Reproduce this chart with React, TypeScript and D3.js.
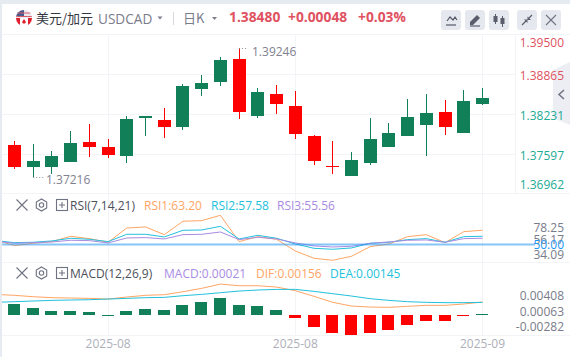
import React from "react";
import * as d3 from "d3";

const opens = [1.37722,1.37375,1.37375,1.37453,1.37769,1.3769,1.37548,1.38147,1.38116,1.38005,1.38605,1.38715,1.39078,1.38179,1.38526,1.38337,1.37863,1.37396,1.37233,1.37438,1.3769,1.37863,1.38037,1.38242,1.37911,1.38368];
const highs = [1.37785,1.37737,1.37627,1.37942,1.38053,1.37816,1.38174,1.38179,1.38305,1.38684,1.38825,1.39109,1.39246,1.3862,1.38668,1.38573,1.37879,1.37785,1.37611,1.38147,1.38068,1.38447,1.38526,1.38431,1.38589,1.3862];
const lows = [1.37343,1.37216,1.37264,1.37453,1.37532,1.37516,1.37438,1.37863,1.37832,1.37958,1.38494,1.38652,1.38132,1.38147,1.3821,1.37816,1.37406,1.37264,1.37233,1.37406,1.3769,1.37863,1.37548,1.37879,1.37911,1.38352];
const closes = [1.37375,1.37469,1.37548,1.37753,1.3769,1.37564,1.38132,1.38179,1.38005,1.38652,1.38699,1.39062,1.38242,1.38557,1.38368,1.37895,1.37469,1.3738,1.37485,1.37816,1.37911,1.38163,1.38226,1.38005,1.38415,1.38463];

const rsi1 = [57.3,47.9,51.8,54.6,63.4,59.5,53.5,77.1,78.8,66.1,88.2,89.3,98.1,54.6,62.8,58.4,39.1,27.0,23.7,30.3,46.3,50.7,62.8,66.1,52.9,71.1,73.3];
const rsi2 = [56.2,52.9,53.5,55.7,60.1,58.4,54.6,66.7,66.7,62.3,73.3,73.8,79.9,59,65,60.1,50.7,43.5,41.9,44.1,51.8,53.5,57.9,59.5,53.5,62.8,63.4];
const rsi3 = [55.1,51.8,52.9,54,56.8,56.2,52.4,60.6,61.2,59,66.1,66.7,70.5,57.9,61.7,59,52.4,47.4,45.7,46.8,51.8,54,56.8,57.3,53.5,59.5,60.1];

const hist = [0.00245,0.00156,0.00089,0.00089,0.00067,0.00002,0.00089,0.00134,0.00111,0.00223,0.00289,0.00378,0.00223,0.002,0.00111,-0.00067,-0.00267,-0.00401,-0.00445,-0.00401,-0.00334,-0.00223,-0.00134,-0.00134,-0.00015,0.00015];
const dif = [0.0046,0.00438,0.00408,0.00386,0.00378,0.00371,0.00356,0.00401,0.00438,0.00453,0.00519,0.00594,0.0069,0.00653,0.00653,0.00623,0.00542,0.00416,0.00282,0.002,0.00178,0.00171,0.00193,0.00215,0.00215,0.00245,0.00289];
const dea = [0.00282,0.00297,0.00312,0.00326,0.00334,0.00341,0.00356,0.00371,0.00386,0.00393,0.0043,0.0046,0.00497,0.00534,0.00557,0.00571,0.00571,0.00527,0.00475,0.00423,0.00364,0.00326,0.00297,0.00282,0.00275,0.00275,0.00282];

const priceTicks = [1.395,1.38865,1.38231,1.37597,1.36962];
const rsiTicks = [78.25,56.17,50,34.09];
const macdTicks = [0.00408,0.00063,-0.00282];
const dateTicks = [{ i: 5, label: "2025-08" }, { i: 15, label: "2025-08" }, { i: 25, label: "2025-09" }];

const UP = "#118058", DOWN = "#ff0000";
const ORANGE = "#ffa564", CYAN = "#22c1dc", PURPLE = "#a88be3";
const LABEL_RED = "#e0525f", LABEL_GREEN = "#22ab94", GRID = "#f3f4f7", GRAY = "#797c8a";
const FONT = "'Noto Sans CJK SC', 'Liberation Sans', sans-serif";
const NUM = "'Open Sans', 'Noto Sans', sans-serif";

const x = d3.scaleLinear().domain([0, 25]).range([14.5, 482.5]);
const yP = d3.scaleLinear().domain([1.39246, 1.37216]).range([48.3, 177]);
const yR = d3.scaleLinear().domain([78.25, 34.09]).range([227.3, 254]);
const yM = d3.scaleLinear().domain([0, 0.00408]).range([315, 296.7]);

const lineOf = (y: d3.ScaleLinear<number, number>) =>
  d3.line<number>().x((_, i) => x(i - 1)).y((v) => y(v));

function XIcon({ cx, cy, r, color }: { cx: number; cy: number; r: number; color: string }) {
  return <path d={`M${cx - r},${cy - r}L${cx + r},${cy + r}M${cx + r},${cy - r}L${cx - r},${cy + r}`} stroke={color} strokeWidth={1.1} fill="none" />;
}

function PanelIcons({ cy }: { cy: number }) {
  const hex = d3.range(6).map((k) => {
    const a = Math.PI / 6 + (k * Math.PI) / 3;
    return [41.5 + 6 * Math.cos(a), cy + 6 * Math.sin(a)].join(",");
  }).join(" ");
  return (
    <g fill="none" stroke="#6f7280" strokeWidth={1.1}>
      <XIcon cx={22} cy={cy} r={5.5} color="#6f7280" />
      <polygon points={hex} />
      <circle cx={41.5} cy={cy} r={2.2} />
      <rect x={56.5} y={cy - 5.5} width={11} height={11} />
      <path d={`M59,${cy}H65M62,${cy - 3}V${cy + 3}`} />
    </g>
  );
}

function Button({ bx, children }: { bx: number; children: React.ReactNode }) {
  return (
    <g>
      <rect x={bx} y={10} width={20} height={20} rx={3} fill="#e6e8ef" />
      {children}
    </g>
  );
}

export default function App() {
  const clamp = (v: number) => Math.max(42.6, Math.min(184.3, v));
  return (
    <svg width={570} height={357} style={{ position: "fixed", left: 0, top: 0, display: "block" }} fontFamily={FONT}>
      <defs>
        <clipPath id="plot"><rect x={2} y={35} width={514} height={301} /></clipPath>
        <clipPath id="flag"><circle cx={24} cy={18} r={8} /></clipPath>
      </defs>
      <rect width={570} height={357} fill="#e6eaf1" />
      <rect x={2} y={4} width={568} height={353} fill="#fff" />

      {/* header */}
      <g clipPath="url(#flag)">
        <rect x={16} y={10} width={16} height={8} fill="#e8e8ee" />
        <rect x={16} y={10} width={8} height={6} fill="#4a5a8c" />
        <path d="M16,13H32M16,16.5H32" stroke="#d9606a" strokeWidth={1.2} />
        <rect x={16} y={18} width={16} height={8} fill="#fff" />
        <rect x={16} y={18} width={4} height={8} fill="#e0202a" />
        <rect x={28} y={18} width={4} height={8} fill="#e0202a" />
        <path d="M24,19L26,22L25,23.5H23L22,22Z" fill="#e0202a" />
      </g>
      <text x={36} y={23} fontSize={13} fill="#33353f">美元/加元</text>
      <text x={98} y={24} fontSize={13.6} fill={GRAY} fontFamily={NUM}>USDCAD</text>
      <path d="M157.5,16.5h5l-2.5,3z" fill="#7a7d8a" />
      <line x1={173.5} x2={173.5} y1={12} y2={25} stroke="#d5d8e0" />
      <text x={183} y={23} fontSize={13} fill={GRAY}>日K</text>
      <path d="M212,17h5l-2.5,3z" fill="#7a7d8a" />
      <g fontSize={13.8} fontWeight={700} fill={LABEL_RED} fontFamily={NUM}>
        <text x={229} y={22}>1.38480</text>
        <text x={288} y={22}>+0.00048</text>
        <text x={358} y={22}>+0.03%</text>
      </g>
      <Button bx={441}>
        <path d="M447,21l3,-4l3,3l2,-3l2,3" stroke="#555866" fill="none" strokeWidth={1.2} />
        <path d="M446,25H456" stroke="#555866" strokeWidth={1.2} />
      </Button>
      <Button bx={465}>
        <path d="M470,22l7,-7l3,3l-7,7h-3z" fill="#5a5d6b" />
        <path d="M470,26H480" stroke="#5a5d6b" strokeWidth={1.2} />
      </Button>
      <Button bx={489}>
        <path d="M495.5,14V24M502.5,16V27" stroke="#5a5d6b" />
        <rect x={493.5} y={16} width={4} height={6} fill="#5a5d6b" />
        <rect x={500.5} y={18} width={4} height={6} fill="#5a5d6b" />
      </Button>
      <Button bx={517}>
        <path d="M522,25l4,-4M532,15l-4,4" stroke="#5a5d6b" strokeWidth={1.2} />
        <path d="M524,19.5h3.5v3.5zM527.5,16.5v3.5h3.5z" fill="#5a5d6b" />
      </Button>
      <Button bx={541}>
        <XIcon cx={551} cy={20} r={5} color="#6f7280" />
      </Button>

      {/* frame */}
      <g stroke={GRID} strokeWidth={1} shapeRendering="crispEdges">
        <line x1={2} x2={570} y1={34.5} y2={34.5} />
        <line x1={2} x2={570} y1={193.5} y2={193.5} />
        <line x1={2} x2={570} y1={262.5} y2={262.5} />
        <line x1={2} x2={570} y1={335.5} y2={335.5} />
        <line x1={515.5} x2={515.5} y1={35} y2={193} />
        {priceTicks.slice(1, 4).map((t) => (
          <line key={t} x1={2} x2={515} y1={Math.round(yP(t) + 1.5) + 0.5} y2={Math.round(yP(t) + 1.5) + 0.5} />
        ))}
        {dateTicks.map((d) => (
          <line key={d.i} x1={Math.floor(x(d.i)) + 0.5} x2={Math.floor(x(d.i)) + 0.5} y1={35} y2={335} />
        ))}
      </g>

      {/* side tab, under the price labels */}
      <path d="M570,62L553,70V118L570,125Z" fill="#eceef3" />
      <path d="M564,90l-5,4.5l5,4.5" fill="none" stroke="#6f7280" strokeWidth={1.5} />

      {/* candles */}
      <g shapeRendering="crispEdges">
        {closes.map((c, i) => {
          const up = c >= opens[i];
          const color = up ? UP : DOWN;
          const top = yP(Math.max(c, opens[i]));
          const bot = yP(Math.min(c, opens[i]));
          return (
            <g key={i} fill={color}>
              <rect x={Math.floor(x(i))} y={yP(highs[i])} width={1} height={yP(lows[i]) - yP(highs[i])} />
              <rect x={Math.floor(x(i)) - 6} y={top} width={13} height={Math.max(1, bot - top)} />
            </g>
          );
        })}
      </g>
      <path d={`M${x(12)},48.5h8`} stroke="#8b8e9a" strokeDasharray="1 2" />
      <text x={252} y={56} fontSize={12} fill="#7f8290" fontFamily={NUM}>1.39246</text>
      <path d={`M${x(1)},177.5h10`} stroke="#8b8e9a" strokeDasharray="1 2" />
      <text x={46} y={184} fontSize={12} fill="#7f8290" fontFamily={NUM}>1.37216</text>

      <g fontSize={12} fontFamily={NUM}>
        {priceTicks.map((t, i) => (
          <text key={t} x={564} y={clamp(yP(t) + 3)} dominantBaseline="central" textAnchor="end" fill={i < 2 ? LABEL_RED : LABEL_GREEN}>{t.toFixed(5)}</text>
        ))}
      </g>

      {/* RSI */}
      <PanelIcons cy={205} />
      <g fontSize={12} fontFamily={NUM}>
        <text x={70} y={209.5} fill="#4c4f5c">RSI(7,14,21)</text>
        <text x={144} y={209.5} fill={ORANGE}>RSI1:63.20</text>
        <text x={211} y={209.5} fill={CYAN}>RSI2:57.58</text>
        <text x={277} y={209.5} fill={PURPLE}>RSI3:55.56</text>
      </g>
      <g clipPath="url(#plot)" fill="none">
        <path d={lineOf(yR)(rsi1) ?? ""} stroke={ORANGE} strokeWidth={1} />
        <path d={lineOf(yR)(rsi2) ?? ""} stroke={CYAN} strokeWidth={1} />
        <path d={lineOf(yR)(rsi3) ?? ""} stroke={PURPLE} strokeWidth={1} />
      </g>
      <line x1={2} x2={535} y1={yR(50)} y2={yR(50)} stroke="#2196f3" strokeOpacity={0.55} strokeWidth={2} />
      <g fontSize={12} fontFamily={NUM}>
        {rsiTicks.map((t) => (
          <text key={t} x={564} y={yR(t) + (t === 56.17 ? -1.5 : 0)} dominantBaseline="central" textAnchor="end" fill={t === 50 ? "#2196f3" : GRAY}>{t.toFixed(2)}</text>
        ))}
      </g>

      {/* MACD */}
      <PanelIcons cy={273} />
      <g fontSize={12} fontFamily={NUM}>
        <text x={70} y={277.5} fill="#4c4f5c">MACD(12,26,9)</text>
        <text x={164} y={277.5} fill={PURPLE}>MACD:0.00021</text>
        <text x={256} y={277.5} fill={ORANGE}>DIF:0.00156</text>
        <text x={330} y={277.5} fill={CYAN}>DEA:0.00145</text>
      </g>
      <g shapeRendering="crispEdges">
        {hist.map((h, i) => (
          <rect key={i} x={Math.floor(x(i)) - 6} y={h >= 0 ? yM(h) : yM(0)} width={12}
            height={Math.max(1, Math.abs(yM(h) - yM(0)))} fill={h >= 0 ? UP : DOWN} />
        ))}
      </g>
      <g clipPath="url(#plot)" fill="none">
        <path d={lineOf(yM)(dif) ?? ""} stroke={ORANGE} strokeWidth={1} />
        <path d={lineOf(yM)(dea) ?? ""} stroke={CYAN} strokeWidth={1} />
      </g>
      <g fontSize={12} fontFamily={NUM} fill={GRAY}>
        {macdTicks.map((t) => (
          <text key={t} x={564} y={yM(t) - 1} dominantBaseline="central" textAnchor="end">{t.toFixed(5)}</text>
        ))}
      </g>

      {/* dates */}
      <g fontSize={12} fontFamily={NUM} fill="#adafb9" textAnchor="middle">
        {dateTicks.map((d) => (
          <text key={d.i} x={x(d.i)} y={348}>{d.label}</text>
        ))}
      </g>
    </svg>
  );
}
